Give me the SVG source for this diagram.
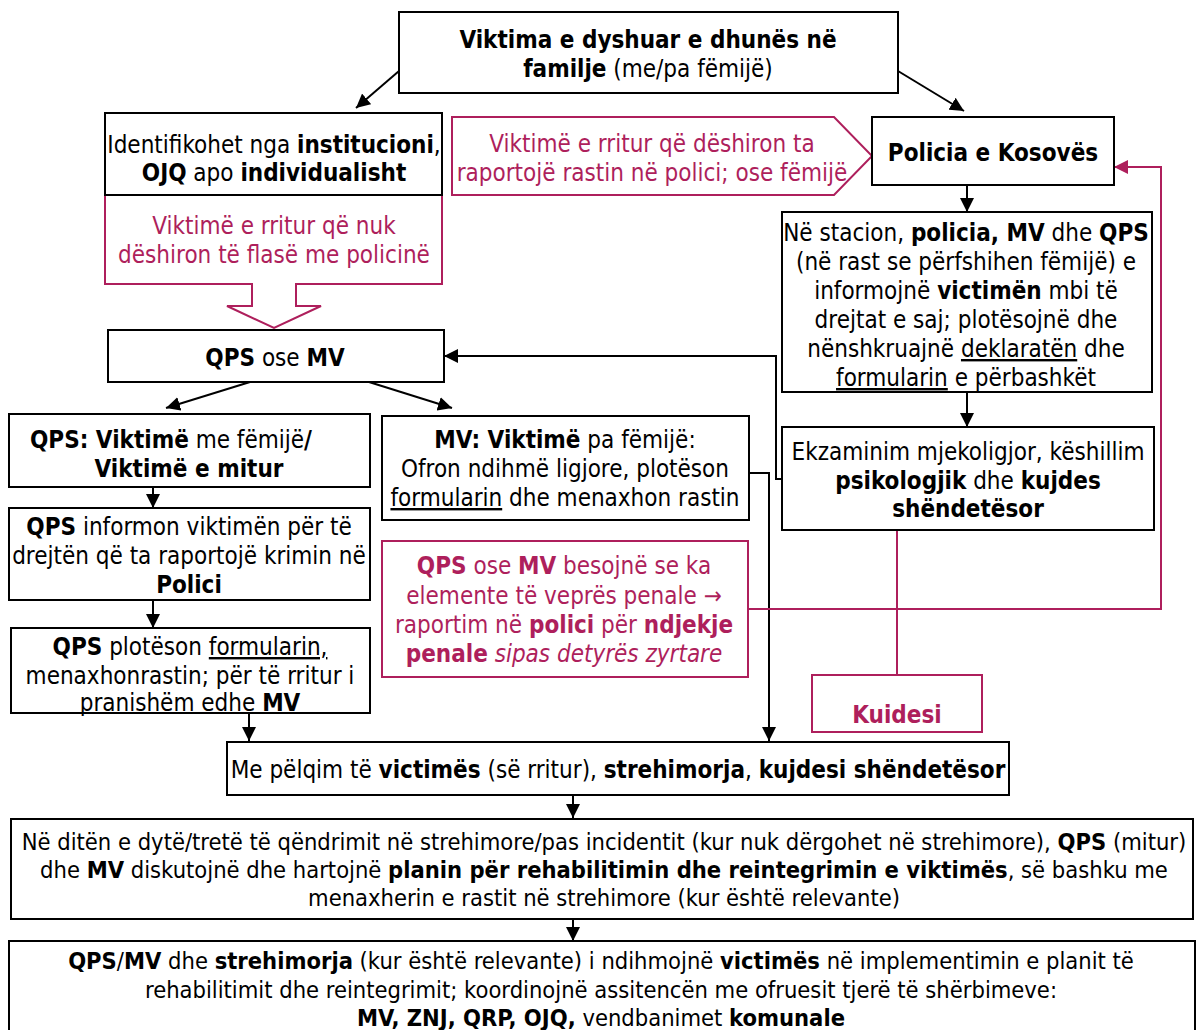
<svg xmlns="http://www.w3.org/2000/svg" width="1201" height="1030" viewBox="0 0 1201 1030">
  <style>
    text { font-family: "DejaVu Sans Condensed", "DejaVu Sans", sans-serif; font-stretch: condensed; font-size: 24px; fill: #000; }
    .sm { font-size: 23.5px; }
    .c { text-anchor: middle; }
    .b { font-weight: bold; }
    .i { font-style: italic; }
    .u { text-decoration: underline; }
    .pk { fill: #AE1F5C; }
    .box { fill: #fff; stroke: #000; stroke-width: 2; }
    .pbox { fill: #fff; stroke: #AE1F5C; stroke-width: 2; }
    .ln { fill: none; stroke: #000; stroke-width: 2; }
    .pln { fill: none; stroke: #AE1F5C; stroke-width: 2; }
  </style>
  <defs>
    <marker id="ah" markerUnits="userSpaceOnUse" markerWidth="14" markerHeight="14" refX="14" refY="7" orient="auto">
      <path d="M0,0 L14,7 L0,14 z" fill="#000"/>
    </marker>
    <marker id="ahp" markerUnits="userSpaceOnUse" markerWidth="14" markerHeight="14" refX="14" refY="7" orient="auto">
      <path d="M0,0 L14,7 L0,14 z" fill="#AE1F5C"/>
    </marker>
  </defs>
  <rect width="1201" height="1030" fill="#fff"/>

  <!-- connectors -->
  <g id="connectors">
    <path class="ln" d="M399,71 L356,108" marker-end="url(#ah)"/>
    <path class="ln" d="M898,71 L964,111" marker-end="url(#ah)"/>
    <path class="ln" d="M967,185 V212" marker-end="url(#ah)"/>
    <path class="ln" d="M967,392 V427" marker-end="url(#ah)"/>
    <path class="ln" d="M782,479 H776 V356 H444" marker-end="url(#ah)"/>
    <path class="ln" d="M250,382 L166,408" marker-end="url(#ah)"/>
    <path class="ln" d="M369,382 L452,408" marker-end="url(#ah)"/>
    <path class="ln" d="M153,487 V508" marker-end="url(#ah)"/>
    <path class="ln" d="M153,600 V628" marker-end="url(#ah)"/>
    <path class="ln" d="M249,713 V741" marker-end="url(#ah)"/>
    <path class="ln" d="M749,473 H769 V741" marker-end="url(#ah)"/>
    <path class="ln" d="M573,795 V818" marker-end="url(#ah)"/>
    <path class="ln" d="M573,919 V941" marker-end="url(#ah)"/>
    <path class="pln" d="M897,530 V675"/>
    <path class="pln" d="M748,609 H1161 V167 H1114" marker-end="url(#ahp)"/>
  </g>

  <!-- top node -->
  <g id="n-viktima">
    <rect class="box" x="399" y="12" width="499" height="81"/>
    <text class="c" x="648" y="48"><tspan class="b">Viktima e dyshuar e dhunës në</tspan></text>
    <text class="c" x="648" y="77"><tspan class="b">familje</tspan> (me/pa fëmijë)</text>
  </g>

  <!-- pink block arrow: adult not wanting police -->
  <g id="n-nukdeshiron">
    <path class="pbox" d="M105,195 H442 V284 H296 V306 H321 L274,328 L227,306 H252 V284 H105 Z"/>
    <text class="c pk" x="274" y="234">Viktimë e rritur që nuk</text>
    <text class="c pk" x="274" y="263">dëshiron të flasë me policinë</text>
  </g>

  <g id="n-identifikohet">
    <rect class="box" x="105" y="113" width="337" height="82"/>
    <text class="c" x="274" y="153">Identifikohet nga <tspan class="b">institucioni</tspan>,</text>
    <text class="c" x="274" y="181"><tspan class="b">OJQ</tspan> apo <tspan class="b">individualisht</tspan></text>
  </g>

  <!-- pink pentagon: adult wanting to report -->
  <g id="n-deshiron">
    <path class="pbox" d="M452,117 H834 L872,156 L834,195 H452 Z"/>
    <text class="c pk" x="652" y="152">Viktimë e rritur që dëshiron ta</text>
    <text class="c pk" x="652" y="181">raportojë rastin në polici; ose fëmijë</text>
  </g>

  <g id="n-policia">
    <rect class="box" x="872" y="117" width="242" height="68"/>
    <text class="c b" x="993" y="161">Policia e Kosovës</text>
  </g>

  <g id="n-stacion">
    <rect class="box" x="782" y="212" width="370" height="180"/>
    <text class="c" x="966" y="241">Në stacion, <tspan class="b">policia, MV</tspan> dhe <tspan class="b">QPS</tspan></text>
    <text class="c" x="966" y="270">(në rast se përfshihen fëmijë) e</text>
    <text class="c" x="966" y="299">informojnë <tspan class="b">victimën</tspan> mbi të</text>
    <text class="c" x="966" y="328">drejtat e saj; plotësojnë dhe</text>
    <text class="c" x="966" y="357">nënshkruajnë <tspan class="u">deklaratën</tspan> dhe</text>
    <text class="c" x="966" y="386"><tspan class="u">formularin</tspan> e përbashkët</text>
  </g>

  <g id="n-ekzaminim">
    <rect class="box" x="782" y="427" width="372" height="103"/>
    <text class="c" x="968" y="460">Ekzaminim mjekoligjor, këshillim</text>
    <text class="c" x="968" y="489"><tspan class="b">psikologjik</tspan> dhe <tspan class="b">kujdes</tspan></text>
    <text class="c b" x="968" y="517">shëndetësor</text>
  </g>

  <g id="n-qpsmv">
    <rect class="box" x="108" y="330" width="336" height="52"/>
    <text class="c" x="275" y="366"><tspan class="b">QPS</tspan> ose <tspan class="b">MV</tspan></text>
  </g>

  <g id="n-qps-femije">
    <rect class="box" x="9" y="414" width="361" height="73"/>
    <text x="30" y="448"><tspan class="b">QPS: Viktimë</tspan> me fëmijë<tspan class="b">/</tspan></text>
    <text class="c b" x="189" y="477">Viktimë e mitur</text>
  </g>

  <g id="n-qps-informon">
    <rect class="box" x="9" y="508" width="361" height="92"/>
    <text class="c" x="189" y="535"><tspan class="b">QPS</tspan> informon viktimën për të</text>
    <text class="c" x="189" y="564">drejtën që ta raportojë krimin në</text>
    <text class="c b" x="189" y="593">Polici</text>
  </g>

  <g id="n-qps-plotison">
    <rect class="box" x="11" y="628" width="359" height="85"/>
    <text class="c" x="190" y="655"><tspan class="b">QPS</tspan> plotëson <tspan class="u">formularin,</tspan></text>
    <text class="c" x="190" y="684">menaxhonrastin; për të rritur i</text>
    <text class="c" x="190" y="711">pranishëm edhe <tspan class="b">MV</tspan></text>
  </g>

  <g id="n-mv-pafemije">
    <rect class="box" x="382" y="416" width="367" height="104"/>
    <text class="c" x="565" y="448"><tspan class="b">MV: Viktimë</tspan> pa fëmijë:</text>
    <text class="c" x="565" y="477">Ofron ndihmë ligjore, plotëson</text>
    <text class="c" x="565" y="506"><tspan class="u">formularin</tspan> dhe menaxhon rastin</text>
  </g>

  <g id="n-besojne">
    <rect class="pbox" x="382" y="541" width="366" height="136"/>
    <text class="c pk" x="564" y="574"><tspan class="b">QPS</tspan> ose <tspan class="b">MV</tspan> besojnë se ka</text>
    <text class="c pk" x="564" y="604">elemente të veprës penale →</text>
    <text class="c pk" x="564" y="633">raportim në <tspan class="b">polici</tspan> për <tspan class="b">ndjekje</tspan></text>
    <text class="c pk" x="564" y="662"><tspan class="b">penale</tspan> <tspan class="i">sipas detyrës zyrtare</tspan></text>
  </g>

  <g id="n-kuidesi">
    <rect class="pbox" x="812" y="675" width="170" height="57"/>
    <text class="c b pk" x="897" y="723">Kuidesi</text>
  </g>

  <g id="n-pelqim">
    <rect class="box" x="227" y="742" width="782" height="53"/>
    <text class="c" x="618" y="778">Me pëlqim të <tspan class="b">victimës</tspan> (së rritur), <tspan class="b">strehimorja</tspan>, <tspan class="b">kujdesi shëndetësor</tspan></text>
  </g>

  <g id="n-planin">
    <rect class="box" x="11" y="819" width="1182" height="100"/>
    <text class="c sm" x="604" y="850">Në ditën e dytë/tretë të qëndrimit në strehimore/pas incidentit (kur nuk dërgohet në strehimore), <tspan class="b">QPS</tspan> (mitur)</text>
    <text class="c sm" x="604" y="878">dhe <tspan class="b">MV</tspan> diskutojnë dhe hartojnë <tspan class="b">planin për rehabilitimin dhe reintegrimin e viktimës</tspan>, së bashku me</text>
    <text class="c sm" x="604" y="906">menaxherin e rastit në strehimore (kur është relevante)</text>
  </g>

  <g id="n-implementim">
    <rect class="box" x="9" y="941" width="1186" height="100"/>
    <text class="c sm" x="601" y="969"><tspan class="b">QPS</tspan>/<tspan class="b">MV</tspan> dhe <tspan class="b">strehimorja</tspan> (kur është relevante) i ndihmojnë <tspan class="b">victimës</tspan> në implementimin e planit të</text>
    <text class="c sm" x="601" y="998">rehabilitimit dhe reintegrimit; koordinojnë assitencën me ofruesit tjerë të shërbimeve:</text>
    <text class="c sm" x="601" y="1026"><tspan class="b">MV, ZNJ, QRP, OJQ,</tspan> vendbanimet <tspan class="b">komunale</tspan></text>
  </g>
</svg>
